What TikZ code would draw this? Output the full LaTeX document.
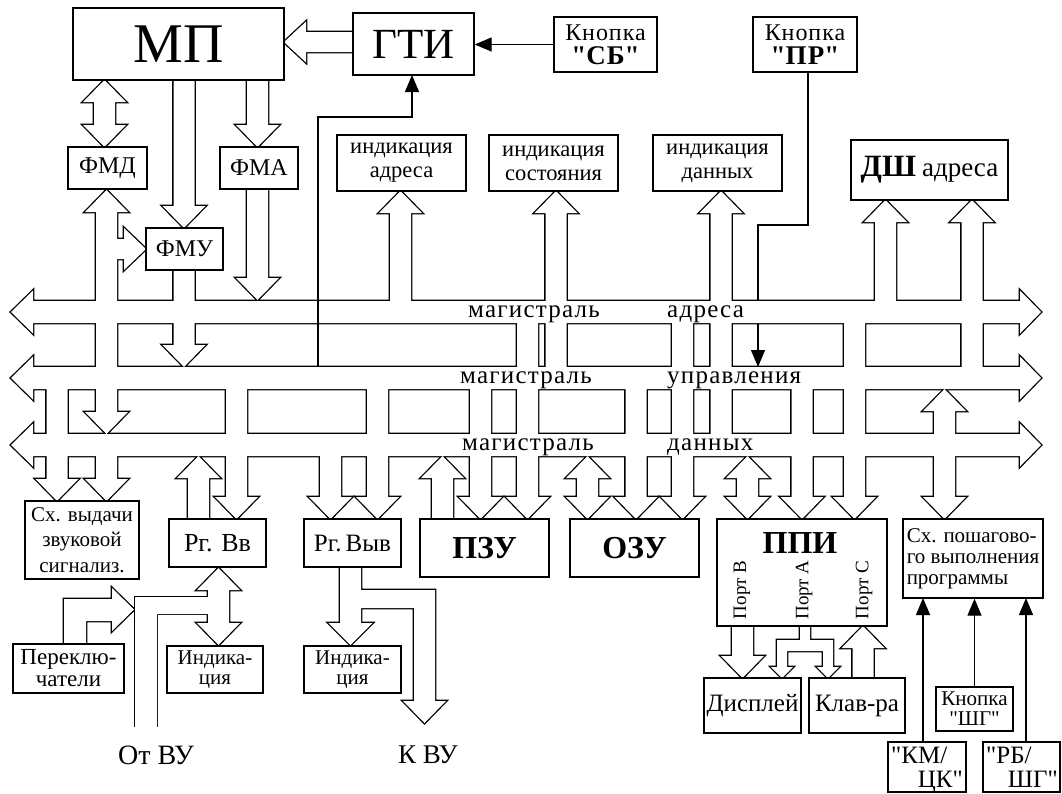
\documentclass[tikz,border=0pt]{standalone}
\usepackage{fontspec}
\setmainfont{Liberation Serif}
\newfontfamily\busfont[LetterSpace=5.0]{Liberation Serif}
\newfontfamily\widefont[LetterSpace=4.0]{Liberation Serif}
\newfontfamily\plainfont{Liberation Serif}
\usetikzlibrary{arrows.meta}
\newcommand\fs[2]{\fontsize{#1}{#2}\selectfont}
\newcommand\qq{{\plainfont\symbol{34}}}
% wide hollow arrows (pipes)
\newcommand\busA[1]{\path[pipeshape] (33,{#1-11}) -- (1020,{#1-11}) -- (1020,{#1-21.5}) -- (1041,{#1}) -- (1020,{#1+21.5}) -- (1020,{#1+11}) -- (33,{#1+11}) -- (33,{#1+21.5}) -- (11,{#1}) -- (33,{#1-21.5}) -- cycle;}
\newcommand\dnA[3]{\path[pipeshape] ({#1-10.5},{#2}) -- ({#1-10.5},{#3-22}) -- ({#1-21.5},{#3-22}) -- ({#1},{#3}) -- ({#1+21.5},{#3-22}) -- ({#1+10.5},{#3-22}) -- ({#1+10.5},{#2}) -- cycle;}
\newcommand\upA[3]{\path[pipeshape] ({#1-10.5},{#3}) -- ({#1-10.5},{#2+22}) -- ({#1-21.5},{#2+22}) -- ({#1},{#2}) -- ({#1+21.5},{#2+22}) -- ({#1+10.5},{#2+22}) -- ({#1+10.5},{#3}) -- cycle;}
\newcommand\dbA[3]{\path[pipeshape] ({#1-10.5},{#2+22}) -- ({#1-21.5},{#2+22}) -- ({#1},{#2}) -- ({#1+21.5},{#2+22}) -- ({#1+10.5},{#2+22}) -- ({#1+10.5},{#3-22}) -- ({#1+21.5},{#3-22}) -- ({#1},{#3}) -- ({#1-21.5},{#3-22}) -- ({#1-10.5},{#3-22}) -- cycle;}
\newcommand\allpipes{%
  \busA{312}\busA{378}\busA{445}%
  \dbA{104.5}{80}{147}%
  \dnA{257.5}{70}{147}%
  \dnA{257.5}{180}{300}%
  \dnA{184}{70}{228}%
  \dbA{106.5}{190}{434}%
  \path[pipeshape] (110,239) -- (124,239) -- (124,228) -- (146,249) -- (124,270) -- (124,259) -- (110,259) -- cycle;
  \dnA{184}{260}{367}%
  \path[pipeshape] (360,32) -- (306,32) -- (306,21.5) -- (284,42) -- (306,62.5) -- (306,52) -- (360,52) -- cycle;
  \upA{400.5}{191}{312}%
  \upA{556}{191}{378}%
  \upA{721}{191}{445}%
  \upA{885.5}{200}{312}%
  \upA{972}{200}{378}%
  \dnA{57}{378}{501}%
  \dnA{106.5}{445}{501}%
  \upA{198.5}{456}{525}%
  \dnA{236.5}{378}{519}%
  \dnA{330.5}{445}{519}%
  \dnA{377.5}{378}{519}%
  \upA{442.5}{456}{525}%
  \dnA{480.5}{378}{519}%
  \dnA{527.5}{312}{519}%
  \dbA{587.5}{456}{519}%
  \dnA{636}{378}{519}%
  \dnA{682.5}{312}{519}%
  \dbA{747.5}{456}{519}%
  \dnA{802}{378}{519}%
  \dnA{854.5}{312}{519}%
  \dbA{944.5}{389}{519}%
  \dbA{218.5}{568}{645}%
  \path[pipeshape] (64,650) -- (64,599) -- (112,599) -- (112,588) -- (134,609.5) -- (112,631) -- (112,621) -- (86,621) -- (86,650) -- cycle;
  \path[pipeshape] (340,560) -- (340,623) -- (328.5,623) -- (350.5,645) -- (372.5,623) -- (361,623) -- (361,608) -- (414,608) -- (414,701) -- (403,701) -- (424.5,723) -- (446,701) -- (435,701) -- (435,590) -- (361,590) -- (361,560) -- cycle;
  \dnA{742.5}{620}{678}%
  \path[pipeshape] (800,620) -- (800,640) -- (777,640) -- (777,667) -- (771,667) -- (782,678) -- (793,667) -- (787,667) -- (787,651) -- (823,651) -- (823,667) -- (817,667) -- (828,678) -- (839,667) -- (833,667) -- (833,640) -- (810,640) -- (810,620) -- cycle;
  \upA{863}{626}{685}%
}
\newcommand\bnode[7][]{\node[box,#1,minimum width={(#5-#3)*1pt},minimum height={(#6-#4)*1pt}] (#2) at ({(#3+#5)/2},{(#4+#6)/2}) {#7};}
\begin{document}
\begin{tikzpicture}[x=1pt,y=-1pt,
  box/.style={draw,line width=1.3pt,fill=white,inner sep=0pt,align=center},
  sig/.style={line width=1.3pt,-{Triangle[length=17pt,width=14pt]}},
  buslabel/.style={anchor=base west,font=\busfont\fs{25}{25},inner sep=0pt}]
\fill[white] (0,0) rectangle (1062,793);
\path[use as bounding box] (0,0) rectangle (1062,793);

% control line from button PR, hidden inside the address bus
\coordinate (prend) at (758,367);
\coordinate (prtop) at (808,72);
\draw[sig] (prtop) |- (758,225) -- (prend);

% pipes: outline pass, then interior pass (merged outlines)
\tikzset{pipeshape/.style={draw=black,line width=2.6pt,line join=miter}}
\allpipes
\draw[line width=2.6pt] (135,727) -- (135,597) -- (215,597) -- (215,614) -- (157,614) -- (157,727);
\tikzset{pipeshape/.style={fill=white}}
\allpipes
\fill[white] (135,727) -- (135,597) -- (215,597) -- (215,614) -- (157,614) -- (157,727) -- cycle;

% boxes
\bnode[font=\fs{56}{56}]{mp}{73}{8}{284}{80}{МП}
\bnode[font=\fs{43}{43}]{gti}{353}{13}{474}{75}{ГТИ}
\bnode[font=\widefont\fs{24}{24}]{sb}{554}{17}{657}{72}{Кнопка\\{\fs{27}{24}\bfseries \qq СБ\qq}}
\bnode[font=\widefont\fs{24}{24}]{pr}{753}{17}{857}{72}{Кнопка\\{\fs{27}{24}\bfseries \qq ПР\qq}}
\bnode[font=\fs{24}{24}]{fmd}{68}{147}{147}{189}{ФМД}
\bnode[font=\fs{24}{24}]{fma}{220}{147}{298}{189}{ФМА}
\bnode[font=\fs{24}{24}]{fmu}{146}{228}{223}{270}{ФМУ}
\bnode[font=\fs{22.5}{24}]{ia}{337}{135}{466}{191}{индикация\\адреса}
\bnode[font=\fs{22.5}{24}]{is}{489}{135}{618}{191}{индикация\\состояния}
\bnode[font=\fs{22.5}{24}]{id}{653}{135}{782}{191}{индикация\\данных}
\bnode{dsh}{851}{140}{1008}{200}{{\fs{31}{31}\bfseries ДШ}\hspace{6pt}{\fs{27}{27}адреса}}
\bnode[font=\fs{21}{25.5}]{sxv}{25}{501}{139}{579}{Сх. выдачи\\звуковой\\сигнализ.}
\bnode[font=\fs{26}{26}]{rgvv}{169}{519}{266}{567}{Рг. Вв}
\bnode[font=\fs{25}{25}]{rgvyv}{304}{519}{401}{567}{Рг.\,Выв}
\bnode[font=\fs{32}{32}\bfseries]{pzu}{420}{519}{549}{577}{ПЗУ}
\bnode[font=\fs{32}{32}\bfseries]{ozu}{570}{519}{699}{577}{ОЗУ}
\bnode{ppi}{717}{519}{887}{626}{}
\bnode[font=\fs{21}{21},align=left]{sxp}{903}{519}{1043}{598}{Сх. пошагово-\\го выполнения\\программы}
\bnode[font=\fs{23}{22}]{per}{13}{644}{124}{693}{Переклю-\\чатели}
\bnode[font=\fs{21}{20}]{ind1}{167}{646}{263}{693}{Индика-\\ция}
\bnode[font=\fs{21}{20}]{ind2}{304}{646}{401}{693}{Индика-\\ция}
\bnode[font=\fs{25}{25}]{disp}{704}{678}{801}{733}{Дисплей}
\bnode[font=\fs{25}{25}]{klav}{809}{678}{905}{733}{Клав-ра}
\bnode[font=\fs{21}{20}]{shg}{936}{687}{1013}{731}{Кнопка\\\qq ШГ\qq}
\bnode{km}{888}{742}{966}{792}{}
\bnode{rb}{983}{742}{1060}{792}{}

% texts inside boxes
\node[font=\fs{32}{32}\bfseries] (ppit) at (800,543) {ППИ};
\node[rotate=90,font=\fs{19}{19}] (pb) at (742,590) {Порт В};
\node[rotate=90,font=\fs{19}{19}] (pa) at (804,590) {Порт А};
\node[rotate=90,font=\fs{19}{19}] (pc) at (864,590) {Порт С};
\node[anchor=base west,font=\fs{25}{25},inner sep=0pt] (km1) at (891,763) {\qq КМ/};
\node[anchor=base east,font=\fs{25}{25},inner sep=0pt] (km2) at (963,787) {ЦК\qq};
\node[anchor=base west,font=\fs{25}{25},inner sep=0pt] (rb1) at (986,763) {\qq РБ/};
\node[anchor=base east,font=\fs{25}{25},inner sep=0pt] (rb2) at (1058,787) {ШГ\qq};

% bus labels
\node[buslabel] (b1a) at (468,317) {магистраль};
\node[buslabel] (b1b) at (667,317) {адреса};
\node[buslabel] (b2a) at (460,383) {магистраль};
\node[buslabel] (b2b) at (667,383) {управления};
\node[buslabel] (b3a) at (462,450) {магистраль};
\node[buslabel] (b3b) at (667,450) {данных};

% outside labels
\node[font=\fs{28}{28}] (otvu) at (156,755) {От ВУ};
\node[font=\fs{27}{27}] (kvu) at (428,755) {К ВУ};

% thin signal connectors
\draw[sig] (sb.west) -- (gti.east |- sb.west);
\coordinate (ctl) at (318,367);
\coordinate (gtiin) at (412,75);
\draw[sig] (ctl) |- (412,117) -- (gtiin);
\draw[sig] (923,742) coordinate (kmtop) -- (923,598) coordinate (sx1);
\draw[sig] (shg.north) -- (shg.north |- sxp.south);
\draw[sig] (1026,742) coordinate (rbtop) -- (1026,598) coordinate (sx3);
\end{tikzpicture}
\end{document}
